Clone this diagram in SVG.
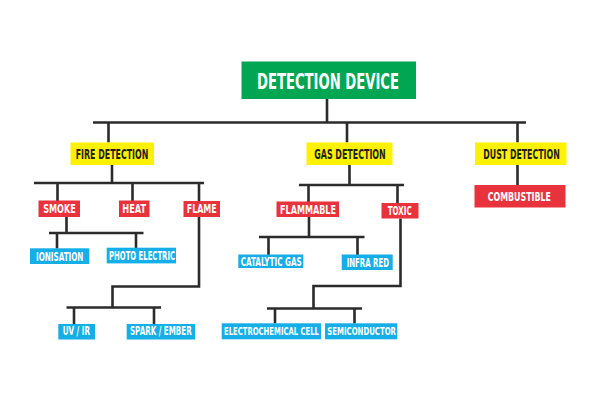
<svg xmlns="http://www.w3.org/2000/svg" width="600" height="400" viewBox="0 0 600 400">
<style>
.t{font-family:"DejaVu Sans Condensed","DejaVu Sans","Liberation Sans",sans-serif;font-stretch:condensed;font-weight:bold;text-anchor:middle}
.w{fill:#ffffff}
.k{fill:#231f20}
.g{fill:#00a651}
.y{fill:#fff200}
.r{fill:#e8323c}
.b{fill:#16aee6}
.c{fill:none;stroke:#2b2b2b;stroke-width:2.6}
</style>
<rect width="600" height="400" fill="#ffffff"/>
<g id="connectors" class="c">
<path d="M327 99V122.5M93 122.5H526M108.5 122.5V142.5M347 122.5V142.5M517.5 122.5V142.5"/>
<path d="M112 165V183M34 183H204M57.5 183V201M132.5 183V201M199 183V201"/>
<path d="M66.5 217V233M49 233H143.5M57 233V248.5M136 233V248"/>
<path d="M199 217V286.5H112.5V307.5M66.5 307.5H161M74 307.5V324M154 307.5V324"/>
<path d="M349.5 165V185M299 185H404M308.5 185V202M397.5 185V203.5"/>
<path d="M309 217V237M259 237H364.5M268.5 237V255M357.5 237V255"/>
<path d="M400.5 218.5V286H313.5V308.5M267 308.5H362M275 308.5V323.5M354.5 308.5V323.5"/>
<path d="M517.5 165V185"/>
</g>
<g id="detection-device"><rect class="g" x="241.5" y="61.5" width="174.5" height="37.5"/><text class="t w" transform="translate(328 88.5) scale(0.7 1)" font-size="21.5" textLength="202.9" lengthAdjust="spacingAndGlyphs">DETECTION DEVICE</text></g>
<g id="fire-detection"><rect class="y" x="70.5" y="142.5" width="83.5" height="22.5"/><text class="t k" transform="translate(112 159) scale(0.7 1)" font-size="13.5" textLength="103.6" lengthAdjust="spacingAndGlyphs">FIRE DETECTION</text></g>
<g id="gas-detection"><rect class="y" x="306.5" y="142.5" width="86" height="22.5"/><text class="t k" transform="translate(350 158.7) scale(0.7 1)" font-size="13.5" textLength="102.1" lengthAdjust="spacingAndGlyphs">GAS DETECTION</text></g>
<g id="dust-detection"><rect class="y" x="475" y="142.5" width="91.5" height="22.5"/><text class="t k" transform="translate(521.5 158.7) scale(0.7 1)" font-size="13.5" textLength="109.3" lengthAdjust="spacingAndGlyphs">DUST DETECTION</text></g>
<g id="smoke"><rect class="r" x="38.5" y="200.5" width="41.5" height="16.5"/><text class="t w" transform="translate(59.5 213) scale(0.7 1)" font-size="11.5" textLength="46.4" lengthAdjust="spacingAndGlyphs">SMOKE</text></g>
<g id="heat"><rect class="r" x="119" y="200.5" width="30.5" height="16.5"/><text class="t w" transform="translate(134.2 213) scale(0.7 1)" font-size="11.5" textLength="33.9" lengthAdjust="spacingAndGlyphs">HEAT</text></g>
<g id="flame"><rect class="r" x="183.5" y="201" width="36.5" height="16"/><text class="t w" transform="translate(201.7 213.3) scale(0.7 1)" font-size="11.5" textLength="42.9" lengthAdjust="spacingAndGlyphs">FLAME</text></g>
<g id="flammable"><rect class="r" x="276.5" y="201.5" width="62.5" height="15.5"/><text class="t w" transform="translate(308 213.8) scale(0.7 1)" font-size="11.5" textLength="80" lengthAdjust="spacingAndGlyphs">FLAMMABLE</text></g>
<g id="toxic"><rect class="r" x="381.5" y="203" width="37" height="15.5"/><text class="t w" transform="translate(399.7 214.5) scale(0.7 1)" font-size="11.5" textLength="34.3" lengthAdjust="spacingAndGlyphs">TOXIC</text></g>
<g id="combustible"><rect class="r" x="474.5" y="185" width="91" height="22.5"/><text class="t w" transform="translate(519.3 201.2) scale(0.7 1)" font-size="12.5" textLength="90.4" lengthAdjust="spacingAndGlyphs">COMBUSTIBLE</text></g>
<g id="ionisation"><rect class="b" x="30" y="248.3" width="59.3" height="15.7"/><text class="t w" transform="translate(59.7 260.7) scale(0.7 1)" font-size="11.5" textLength="67.6" lengthAdjust="spacingAndGlyphs">IONISATION</text></g>
<g id="photo-electric"><rect class="b" x="106.7" y="247.7" width="69.3" height="15.7"/><text class="t w" transform="translate(142 259.5) scale(0.7 1)" font-size="11.5" textLength="94.3" lengthAdjust="spacingAndGlyphs">PHOTO ELECTRIC</text></g>
<g id="uv-ir"><rect class="b" x="58.3" y="324" width="36.7" height="15.5"/><text class="t w" transform="translate(76.3 335.2) scale(0.7 1)" font-size="11.5" textLength="39" lengthAdjust="spacingAndGlyphs">UV / IR</text></g>
<g id="spark-ember"><rect class="b" x="126.7" y="324" width="68.3" height="15.5"/><text class="t w" transform="translate(160.8 334.7) scale(0.7 1)" font-size="11.5" textLength="88.1" lengthAdjust="spacingAndGlyphs">SPARK / EMBER</text></g>
<g id="catalytic-gas"><rect class="b" x="238.3" y="254.5" width="65" height="13.5"/><text class="t w" transform="translate(271.2 266.2) scale(0.7 1)" font-size="11.5" textLength="87.1" lengthAdjust="spacingAndGlyphs">CATALYTIC GAS</text></g>
<g id="infra-red"><rect class="b" x="341.7" y="254.5" width="51" height="15.5"/><text class="t w" transform="translate(367.8 267.3) scale(0.7 1)" font-size="11.5" textLength="60.4" lengthAdjust="spacingAndGlyphs">INFRA RED</text></g>
<g id="electrochemical-cell"><rect class="b" x="221.7" y="323.3" width="99.3" height="16"/><text class="t w" transform="translate(271.5 335.2) scale(0.7 1)" font-size="11" textLength="135.7" lengthAdjust="spacingAndGlyphs">ELECTROCHEMICAL CELL</text></g>
<g id="semiconductor"><rect class="b" x="325" y="323.3" width="72.3" height="16"/><text class="t w" transform="translate(361.6 335.2) scale(0.7 1)" font-size="11" textLength="98.1" lengthAdjust="spacingAndGlyphs">SEMICONDUCTOR</text></g>
</svg>
